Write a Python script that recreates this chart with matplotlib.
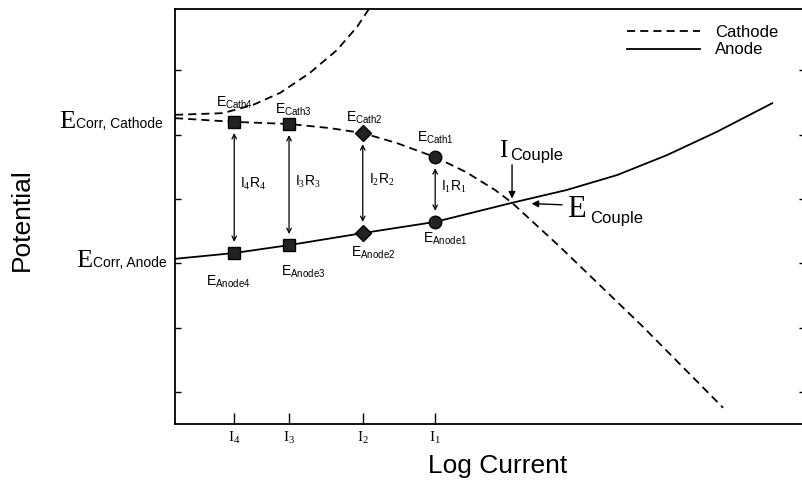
import matplotlib.pyplot as plt

plt.rcParams['font.family'] = 'Liberation Sans'
plt.rcParams['mathtext.fontset'] = 'custom'
plt.rcParams['mathtext.rm'] = 'Liberation Serif'
plt.rcParams['mathtext.sf'] = 'Liberation Sans'
plt.rcParams['mathtext.it'] = 'Liberation Serif:italic'

# log current at the four marked points (arbitrary units), I4 .. I1
i_marks = [0.94, 1.81, 2.98, 4.13]
i_names = ['4', '3', '2', '1']
e_cath = [7.28, 7.23, 7.01, 6.43]
e_anode = [4.12, 4.31, 4.60, 4.87]
mark_style = ['s', 's', 'D', 'o']

# polarization curves
cath_x = [0, 0.94, 1.81, 2.46, 2.98, 3.52, 4.13, 4.62, 5.08, 5.35, 6.11, 7.43, 8.70]
cath_y = [7.37, 7.28, 7.23, 7.13, 7.01, 6.77, 6.43, 6.07, 5.64, 5.33, 4.27, 2.34, 0.39]
anode_x = [0, 0.94, 1.81, 2.98, 4.13, 5.35, 6.22, 7.02, 7.81, 8.60, 9.48]
anode_y = [3.98, 4.12, 4.31, 4.60, 4.87, 5.33, 5.64, 6.00, 6.48, 7.04, 7.73]
upper_x = [0, 0.76, 1.24, 1.67, 2.14, 2.57, 2.89, 3.10]
upper_y = [7.45, 7.49, 7.69, 7.98, 8.46, 9.01, 9.57, 10.05]
couple = (5.35, 5.33)

W, H = 802, 487


def fx(px):
    return px / W


def fy(py):
    return 1 - py / H


fig = plt.figure(figsize=(W / 100, H / 100), dpi=100)
ax = fig.add_axes([fx(175), fy(424), (805 - 175) / W, (424 - 9) / H])
ax.set_xlim(0, 10)
ax.set_ylim(0, 10)

lw = 1.3
dash = (4.5, 2.8)
ax.plot(cath_x, cath_y, color='black', lw=lw, dashes=dash, label='Cathode')
ax.plot(anode_x, anode_y, color='black', lw=lw, label='Anode')
ax.plot(upper_x, upper_y, color='black', lw=lw, dashes=dash)

# markers, arrows and labels at each current
cath_off = [(0, 19), (4, 14), (2, 15), (0, 19)]
anode_off = [(-6, -29), (14, -27), (10, -20), (10, -17)]
for k in range(4):
    x = i_marks[k]
    ms = 8 if mark_style[k] == 'D' else 9
    ax.plot([x, x], [e_cath[k], e_anode[k]], ls='none', marker=mark_style[k],
            ms=ms, color='black', mfc='#222222')
    ax.annotate('', xy=(x, e_anode[k]), xytext=(x, e_cath[k]),
                arrowprops=dict(arrowstyle='<->', lw=0.9, color='black',
                                shrinkA=8, shrinkB=8, mutation_scale=8))
    n = i_names[k]
    ax.annotate(r'I$_{%s}$R$_{%s}$' % (n, n), xy=(x, (e_cath[k] + e_anode[k]) / 2),
                xytext=(6, 3), textcoords='offset pixels', fontsize=10,
                ha='left', va='center')
    ax.annotate(r'$\mathsf{E}_{\mathsf{Cath%s}}$' % n, xy=(x, e_cath[k]),
                xytext=cath_off[k], textcoords='offset pixels', fontsize=10,
                ha='center', va='center')
    ax.annotate(r'$\mathsf{E}_{\mathsf{Anode%s}}$' % n, xy=(x, e_anode[k]),
                xytext=anode_off[k], textcoords='offset pixels', fontsize=10,
                ha='center', va='center')

# couple point arrows
ax.annotate('', xy=couple, xytext=(0, 38), textcoords='offset pixels',
            arrowprops=dict(arrowstyle='-|>', lw=1.0, color='black',
                            shrinkA=0, shrinkB=3, mutation_scale=10))
ax.annotate('', xy=couple, xytext=(50, -2), textcoords='offset pixels',
            arrowprops=dict(arrowstyle='-|>', lw=1.0, color='black',
                            shrinkA=0, shrinkB=14, mutation_scale=10))

ax.set_xticks(i_marks)
ax.set_xticklabels([r'$\mathrm{I}_{%s}$' % n for n in i_names], fontsize=11)
ax.set_yticks([0.77, 2.32, 3.87, 5.42, 6.97, 8.52])
ax.tick_params(axis='both', direction='in', width=1.0, colors='black')
ax.tick_params(axis='y', length=4, left=True, right=True, labelleft=False)
ax.tick_params(axis='x', length=8, pad=4)
for s in ax.spines.values():
    s.set_linewidth(1.3)

leg = ax.legend(loc='upper left', bbox_to_anchor=((627 - 175) / 630, (424 - 25) / 415),
                frameon=False, fontsize=12, handlelength=4.4, handletextpad=0.9,
                labelspacing=0.15, borderpad=0, borderaxespad=0)

# text labels outside / around the axes
fig.text(fx(498), fy(466), 'Log Current', ha='center', va='center', fontsize=19)
fig.text(fx(22), fy(220), 'Potential', ha='center', va='center', fontsize=19, rotation=90)

fig.text(fx(75), fy(128), 'E', family='Liberation Serif', fontsize=19, ha='right', va='baseline')
fig.text(fx(76), fy(128), 'Corr, Cathode', fontsize=10, ha='left', va='baseline')
fig.text(fx(92), fy(267), 'E', family='Liberation Serif', fontsize=19, ha='right', va='baseline')
fig.text(fx(93), fy(267), 'Corr, Anode', fontsize=10, ha='left', va='baseline')

fig.text(fx(507), fy(157), 'I', family='Liberation Serif', fontsize=18, ha='right', va='baseline')
fig.text(fx(510), fy(160), 'Couple', fontsize=12, ha='left', va='baseline')
fig.text(fx(567), fy(217), 'E', family='Liberation Serif', fontsize=22, ha='left', va='baseline')
fig.text(fx(590), fy(223), 'Couple', fontsize=12, ha='left', va='baseline')

fig.savefig('out.png', dpi=100)
